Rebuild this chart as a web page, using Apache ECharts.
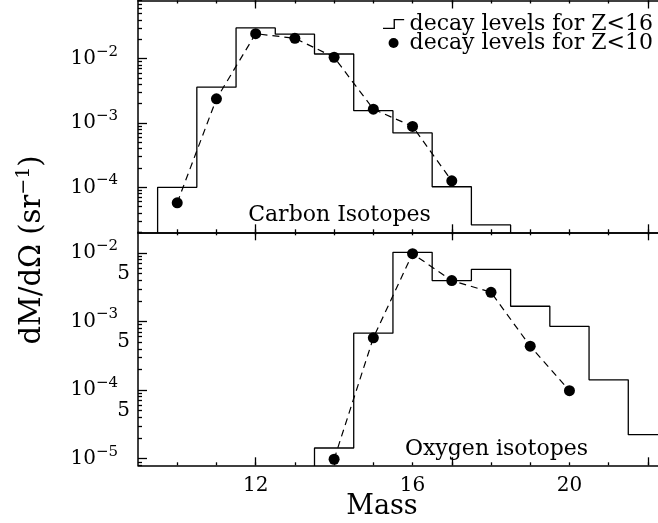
<!DOCTYPE html>
<html>
<head>
<meta charset="utf-8">
<script src="https://cdn.jsdelivr.net/npm/echarts@6/dist/echarts.min.js"></script>
<style>html,body{margin:0;padding:0;background:#fff}#main{width:658px;height:523px}</style>
</head>
<body>
<div id="main"></div>
<script>
// carbon isotopes: histogram (Z<16) and points (Z<10)
var carbonEdges = [9.5, 10.5, 11.5, 12.5, 13.5, 14.5, 15.5, 16.5, 17.5, 18.5];
var carbonHist = [1.0e-4, 3.6e-3, 3.0e-2, 2.4e-2, 1.18e-2, 1.55e-3, 7.0e-4, 1.02e-4, 2.6e-5];
var carbonMass = [10, 11, 12, 13, 14, 15, 16, 17];
var carbonDots = [5.75e-5, 2.37e-3, 2.44e-2, 2.07e-2, 1.05e-2, 1.64e-3, 8.85e-4, 1.26e-4];

// oxygen isotopes
var oxygenEdges = [13.5, 14.5, 15.5, 16.5, 17.5, 18.5, 19.5, 20.5, 21.5, 22.5];
var oxygenHist = [1.43e-5, 6.75e-4, 1.02e-2, 3.95e-3, 5.77e-3, 1.67e-3, 8.5e-4, 1.41e-4, 2.24e-5];
var oxygenMass = [14, 15, 16, 17, 18, 19, 20];
var oxygenDots = [9.8e-6, 5.78e-4, 9.77e-3, 3.95e-3, 2.67e-3, 4.36e-4, 9.8e-5];

// ticks
var xLabelTicks = [12, 16, 20];
var xMajorTicks = [12, 17, 22];
var xMinorTicks = [10, 11, 12, 13, 14, 15, 16, 17, 18, 19, 20, 21, 22];
var topDecadeTicks = [1e-4, 1e-3, 1e-2];
var botDecadeTicks = [1e-5, 1e-4, 1e-3, 1e-2];
var botFiveTicks = [5e-5, 5e-4, 5e-3];

var FONT = 'DejaVu Serif';
var FLOOR = 1e-7;
var X_MIN = 9, X_MAX = 22.5;
var TOP_MIN = 2e-5, TOP_MAX = 0.08;
var BOT_MIN = 8e-6, BOT_MAX = 0.02;

//log minor ticks 2..9 per decade
function minorLogTicks(lo, hi) {
    var out = [];
    for (var e = -6; e <= -1; e++) {
        for (var m = 2; m <= 9; m++) {
            var v = m * Math.pow(10, e);
            if (v >= lo * 0.999 && v <= hi * 1.001) out.push(v);
        }
    }
    return out;
}

//histogram outline from bin edges
function stepData(edges, vals, dropEnd) {
    var d = [[edges[0], FLOOR]];
    for (var i = 0; i < vals.length; i++) d.push([edges[i], vals[i]]);
    d.push([edges[vals.length], vals[vals.length - 1]]);
    if (dropEnd) d.push([edges[vals.length], FLOOR]);
    return d;
}

function pairs(xs, ys) {
    return xs.map(function (x, i) { return [x, ys[i]]; });
}

function logLabel(v) {
    var e = Math.floor(Math.log10(v) + 1e-9);
    var m = Math.round(v / Math.pow(10, e));
    if (m === 1) return '{b|10}{s|\u2212' + (-e) + '}';
    return '{b|' + m + '}';
}

function xAx(grid, pos, ticks, len, showLine, labels) {
    return {
        type: 'value', gridIndex: grid, position: pos, min: X_MIN, max: X_MAX,
        axisLine: { show: showLine, lineStyle: { color: '#000', width: 1.5 } },
        axisTick: { show: true, inside: true, length: len, customValues: ticks, lineStyle: { color: '#000', width: 1.3 } },
        axisLabel: labels ? { show: true, customValues: labels, margin: 10, color: '#000', fontFamily: FONT, fontSize: 20 } : { show: false },
        splitLine: { show: false }
    };
}

function yAx(grid, lo, hi, ticks, len, showLine, labels) {
    return {
        type: 'log', gridIndex: grid, position: 'left', min: lo, max: hi,
        axisLine: { show: showLine, lineStyle: { color: '#000', width: 1.5 } },
        axisTick: ticks ? { show: true, inside: true, length: len, customValues: ticks, lineStyle: { color: '#000', width: 1.3 } } : { show: false },
        axisLabel: labels ? {
            show: true, customValues: labels, margin: 8, formatter: logLabel,
            rich: {
                b: { fontFamily: FONT, fontSize: 20, lineHeight: 14, color: '#000', verticalAlign: 'middle' },
                s: { fontFamily: FONT, fontSize: 15, lineHeight: 1, color: '#000', verticalAlign: 'middle', padding: [0, 12, 14, 0] }
            }
        } : { show: false },
        splitLine: { show: false }
    };
}

var chart = echarts.init(document.getElementById('main'));
var option = {
    backgroundColor: '#fff',
    color: ['#000'],
    animation: false,
    grid: [
        { left: 138, top: 0.5, width: 529.5, height: 231.8, outerBoundsMode: 'none' },
        { left: 138, top: 232.3, width: 529.5, height: 233, outerBoundsMode: 'none' }
    ],
    xAxis: [
        xAx(0, 'bottom', xMinorTicks, 3, true),
        xAx(0, 'bottom', xMajorTicks, 8, false),
        xAx(0, 'top', xMinorTicks, 3, true),
        xAx(0, 'top', xMajorTicks, 8, false),
        xAx(1, 'bottom', xMinorTicks, 3, true, xLabelTicks),
        xAx(1, 'bottom', xMajorTicks, 8, false),
        xAx(1, 'top', xMinorTicks, 3, true),
        xAx(1, 'top', xMajorTicks, 8, false)
    ],
    yAxis: [
        yAx(0, TOP_MIN, TOP_MAX, null, 0, true, topDecadeTicks),
        yAx(0, TOP_MIN, TOP_MAX, minorLogTicks(TOP_MIN, TOP_MAX), 4, false),
        yAx(0, TOP_MIN, TOP_MAX, topDecadeTicks, 9, false),
        yAx(1, BOT_MIN, BOT_MAX, null, 0, true, botDecadeTicks),
        yAx(1, BOT_MIN, BOT_MAX, minorLogTicks(BOT_MIN, BOT_MAX), 4, false),
        yAx(1, BOT_MIN, BOT_MAX, botDecadeTicks, 9, false),
        yAx(1, BOT_MIN, BOT_MAX, null, 0, false, botFiveTicks)
    ],
    legend: {
        orient: 'vertical', left: 378, top: 8, itemWidth: 22, itemHeight: 10, itemGap: -3,
        selectedMode: false,
        textStyle: { fontFamily: FONT, fontSize: 22, lineHeight: 19, color: '#000' },
        data: [
            { name: 'decay levels for Z<16', icon: 'path://M0,9L11,9L11,0L22,0L22,1.4L12.4,1.4L12.4,10.4L0,10.4Z' },
            { name: 'decay levels for Z<10', icon: 'circle' }
        ]
    },
    series: [
        {
            name: 'decay levels for Z<16', type: 'line', step: 'end', xAxisIndex: 0, yAxisIndex: 0,
            data: stepData(carbonEdges, carbonHist, true), symbol: 'none',
            lineStyle: { color: '#000', width: 1.3 }, itemStyle: { color: '#000' }
        },
        {
            name: 'decay levels for Z<10', type: 'line', xAxisIndex: 0, yAxisIndex: 0,
            data: pairs(carbonMass, carbonDots), symbol: 'circle', symbolSize: 11,
            lineStyle: { color: '#000', width: 1.2, type: [7, 5] }, itemStyle: { color: '#000' }
        },
        {
            name: 'decay levels for Z<16', type: 'line', step: 'end', xAxisIndex: 4, yAxisIndex: 3,
            data: stepData(oxygenEdges, oxygenHist, false), symbol: 'none',
            lineStyle: { color: '#000', width: 1.3 }, itemStyle: { color: '#000' }
        },
        {
            name: 'decay levels for Z<10', type: 'line', xAxisIndex: 4, yAxisIndex: 3,
            data: pairs(oxygenMass, oxygenDots), symbol: 'circle', symbolSize: 11,
            lineStyle: { color: '#000', width: 1.2, type: [7, 5] }, itemStyle: { color: '#000' }
        }
    ],
    graphic: [
        { type: 'text', x: 339.5, y: 215, style: { text: 'Carbon Isotopes', font: '22px "DejaVu Serif"', fill: '#000', textAlign: 'center', textVerticalAlign: 'middle' } },
        { type: 'text', x: 496.5, y: 449, style: { text: 'Oxygen isotopes', font: '22px "DejaVu Serif"', fill: '#000', textAlign: 'center', textVerticalAlign: 'middle' } },
        { type: 'text', x: 382, y: 507, style: { text: 'Mass', font: '27px "DejaVu Serif"', fill: '#000', textAlign: 'center', textVerticalAlign: 'middle' } },
        {
            type: 'text', x: 32, y: 250, rotation: Math.PI / 2,
            style: {
                text: '{a|dM/d\u03A9 (sr}{s|\u22121}{a|)}', fill: '#000', textAlign: 'center', textVerticalAlign: 'middle',
                rich: {
                    a: { fontFamily: FONT, fontSize: 29, lineHeight: 30, verticalAlign: 'middle' },
                    s: { fontFamily: FONT, fontSize: 19, lineHeight: 19, verticalAlign: 'middle', padding: [0, 0, 16, 0] }
                }
            }
        }
    ]
};
chart.setOption(option);
</script>
</body>
</html>
